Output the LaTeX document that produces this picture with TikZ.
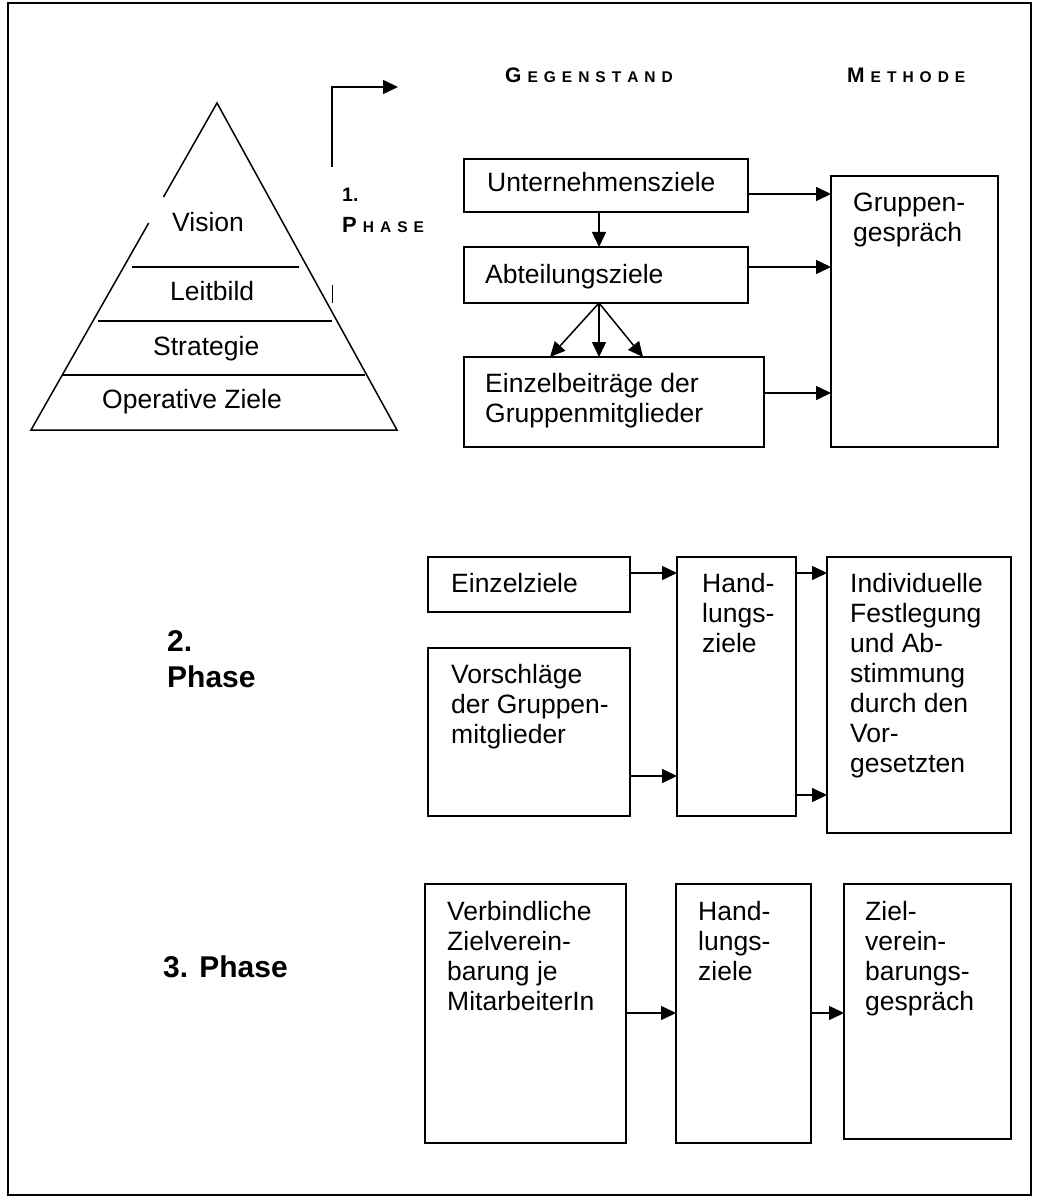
\documentclass[tikz,border=0pt]{standalone}
\usepackage{fontspec}
\setmainfont{Liberation Sans}
\usetikzlibrary{arrows.meta}
\newcommand\ml[1]{\begin{tabular}[t]{@{}l@{}}#1\end{tabular}}
\newcommand\sk{\kern6pt}
\newcommand\capsbig{\fontsize{21}{21}\selectfont}
\newcommand\capssmall{\fontsize{15.5}{15.5}\selectfont}
\begin{document}
\begin{tikzpicture}[x=1pt,y=-1pt,
  box/.style={draw, line width=1.5pt, inner sep=0pt, outer sep=0pt, anchor=north west},
  txt/.style={inner sep=0pt, anchor=base west, font=\fontsize{26.5}{30}\selectfont},
  head/.style={inner sep=0pt, anchor=base west, font=\bfseries},
  arr/.style={line width=1.5pt, -{Triangle[length=15pt,width=14pt]}},
  ln/.style={line width=1.5pt}]
\useasboundingbox (0,0) rectangle (1036,1198);
% frame
\draw[line width=2pt] (8,3) rectangle (1031,1195);

% pyramid
\draw[ln, line join=miter] (148.7,223) -- (31,430) -- (397,430) -- (217,103) -- (163.5,197);
\draw[ln] (132,267) -- (299,267);
\draw[ln] (98,321) -- (332,321);
\draw[ln] (63,375) -- (365,375);
\draw[line width=1pt] (332,285) -- (332,303);
\node[txt] (vision) at (172,232) {Vision};
\node[txt] (leitbild) at (170,300) {Leitbild};
\node[txt] (strategie) at (153,355) {Strategie};
\node[txt] (operativ) at (102,408) {Operative Ziele};

% phase 1 label and elbow arrow
\coordinate (elA) at (332,167);
\coordinate (elB) at (398,87);
\draw[arr] (elA) |- (elB);
\node[head] (p1num) at (342,202) {\fontsize{19.5}{19.5}\selectfont 1.};
\node[head] (p1txt) at (342,233) {{\fontsize{22}{22}\selectfont P}\sk{\capssmall H\sk A\sk S\sk E}};

% column headers
\node[head] (gegenstand) at (505,83) {{\capsbig G}\sk{\capssmall E\sk G\sk E\sk N\sk S\sk T\sk A\sk N\sk D}};
\node[head] (methode) at (847,83) {{\capsbig M}\sk{\capssmall E\sk T\sk H\sk O\sk D\sk E}};

% phase 1 boxes
\node[box, minimum width=284pt, minimum height=53pt] (u) at (464,159) {};
\node[box, minimum width=284pt, minimum height=56pt] (a) at (464,247) {};
\node[box, minimum width=300pt, minimum height=90pt] (e) at (464,357) {};
\node[box, minimum width=167pt, minimum height=271pt] (g) at (831,176) {};
\node[txt] (ut) at (487,192) {Unternehmensziele};
\node[txt] (at) at (485,283) {Abteilungsziele};
\node[txt] (et) at (485,392) {\ml{Einzelbeiträge der\\Gruppenmitglieder}};
\node[txt] (gt) at (853,212) {\ml{Gruppen-\\gespräch}};

\draw[arr] ([xshift=-7pt]u.south) -- ([xshift=-7pt]a.north);
\draw[arr] ([xshift=-7pt]a.south) -- ([xshift=-64pt]e.north);
\draw[arr] ([xshift=-7pt]a.south) -- ([xshift=-15pt]e.north);
\draw[arr] ([xshift=-7pt]a.south) -- ([xshift=29pt]e.north);
\draw[arr] (u.east |- 0,194) -- (g.west |- 0,194);
\draw[arr] (a.east |- 0,267) -- (g.west |- 0,267);
\draw[arr] (e.east |- 0,393) -- (g.west |- 0,393);

% phase 2
\node[head, font=\bfseries\fontsize{30}{36}\selectfont] (p2) at (167,651) {\ml{2.\\Phase}};
\node[box, minimum width=202pt, minimum height=55pt] (ez) at (428,557) {};
\node[box, minimum width=202pt, minimum height=168pt] (vo) at (428,648) {};
\node[box, minimum width=119pt, minimum height=259pt] (h2) at (677,557) {};
\node[box, minimum width=184pt, minimum height=276pt] (in) at (827,557) {};
\node[txt] (ezt) at (451,592) {Einzelziele};
\node[txt] (vot) at (451,683) {\ml{Vorschläge\\der Gruppen-\\mitglieder}};
\node[txt] (h2t) at (702,592) {\ml{Hand-\\lungs-\\ziele}};
\node[txt] (int) at (850,592) {\ml{Individuelle\\Festlegung\\und Ab-\\stimmung\\durch den\\Vor-\\gesetzten}};
\draw[arr] (ez.east |- 0,573) -- (h2.west |- 0,573);
\draw[arr] (vo.east |- 0,776) -- (h2.west |- 0,776);
\draw[arr] (h2.east |- 0,573) -- (in.west |- 0,573);
\draw[arr] (h2.east |- 0,795) -- (in.west |- 0,795);

% phase 3
\node[head, font=\bfseries\fontsize{30}{36}\selectfont] (p3) at (163,977) {3. Phase};
\node[box, minimum width=201pt, minimum height=259pt] (vb) at (425,884) {};
\node[box, minimum width=135pt, minimum height=259pt] (h3) at (676,884) {};
\node[box, minimum width=167pt, minimum height=255pt] (zv) at (844,884) {};
\node[txt] (vbt) at (447,920) {\ml{Verbindliche\\Zielverein-\\barung je\\MitarbeiterIn}};
\node[txt] (h3t) at (698,920) {\ml{Hand-\\lungs-\\ziele}};
\node[txt] (zvt) at (865,920) {\ml{Ziel-\\verein-\\barungs-\\gespräch}};
\draw[arr] (vb.east |- 0,1013) -- (h3.west |- 0,1013);
\draw[arr] (h3.east |- 0,1013) -- (zv.west |- 0,1013);
\end{tikzpicture}
\end{document}
